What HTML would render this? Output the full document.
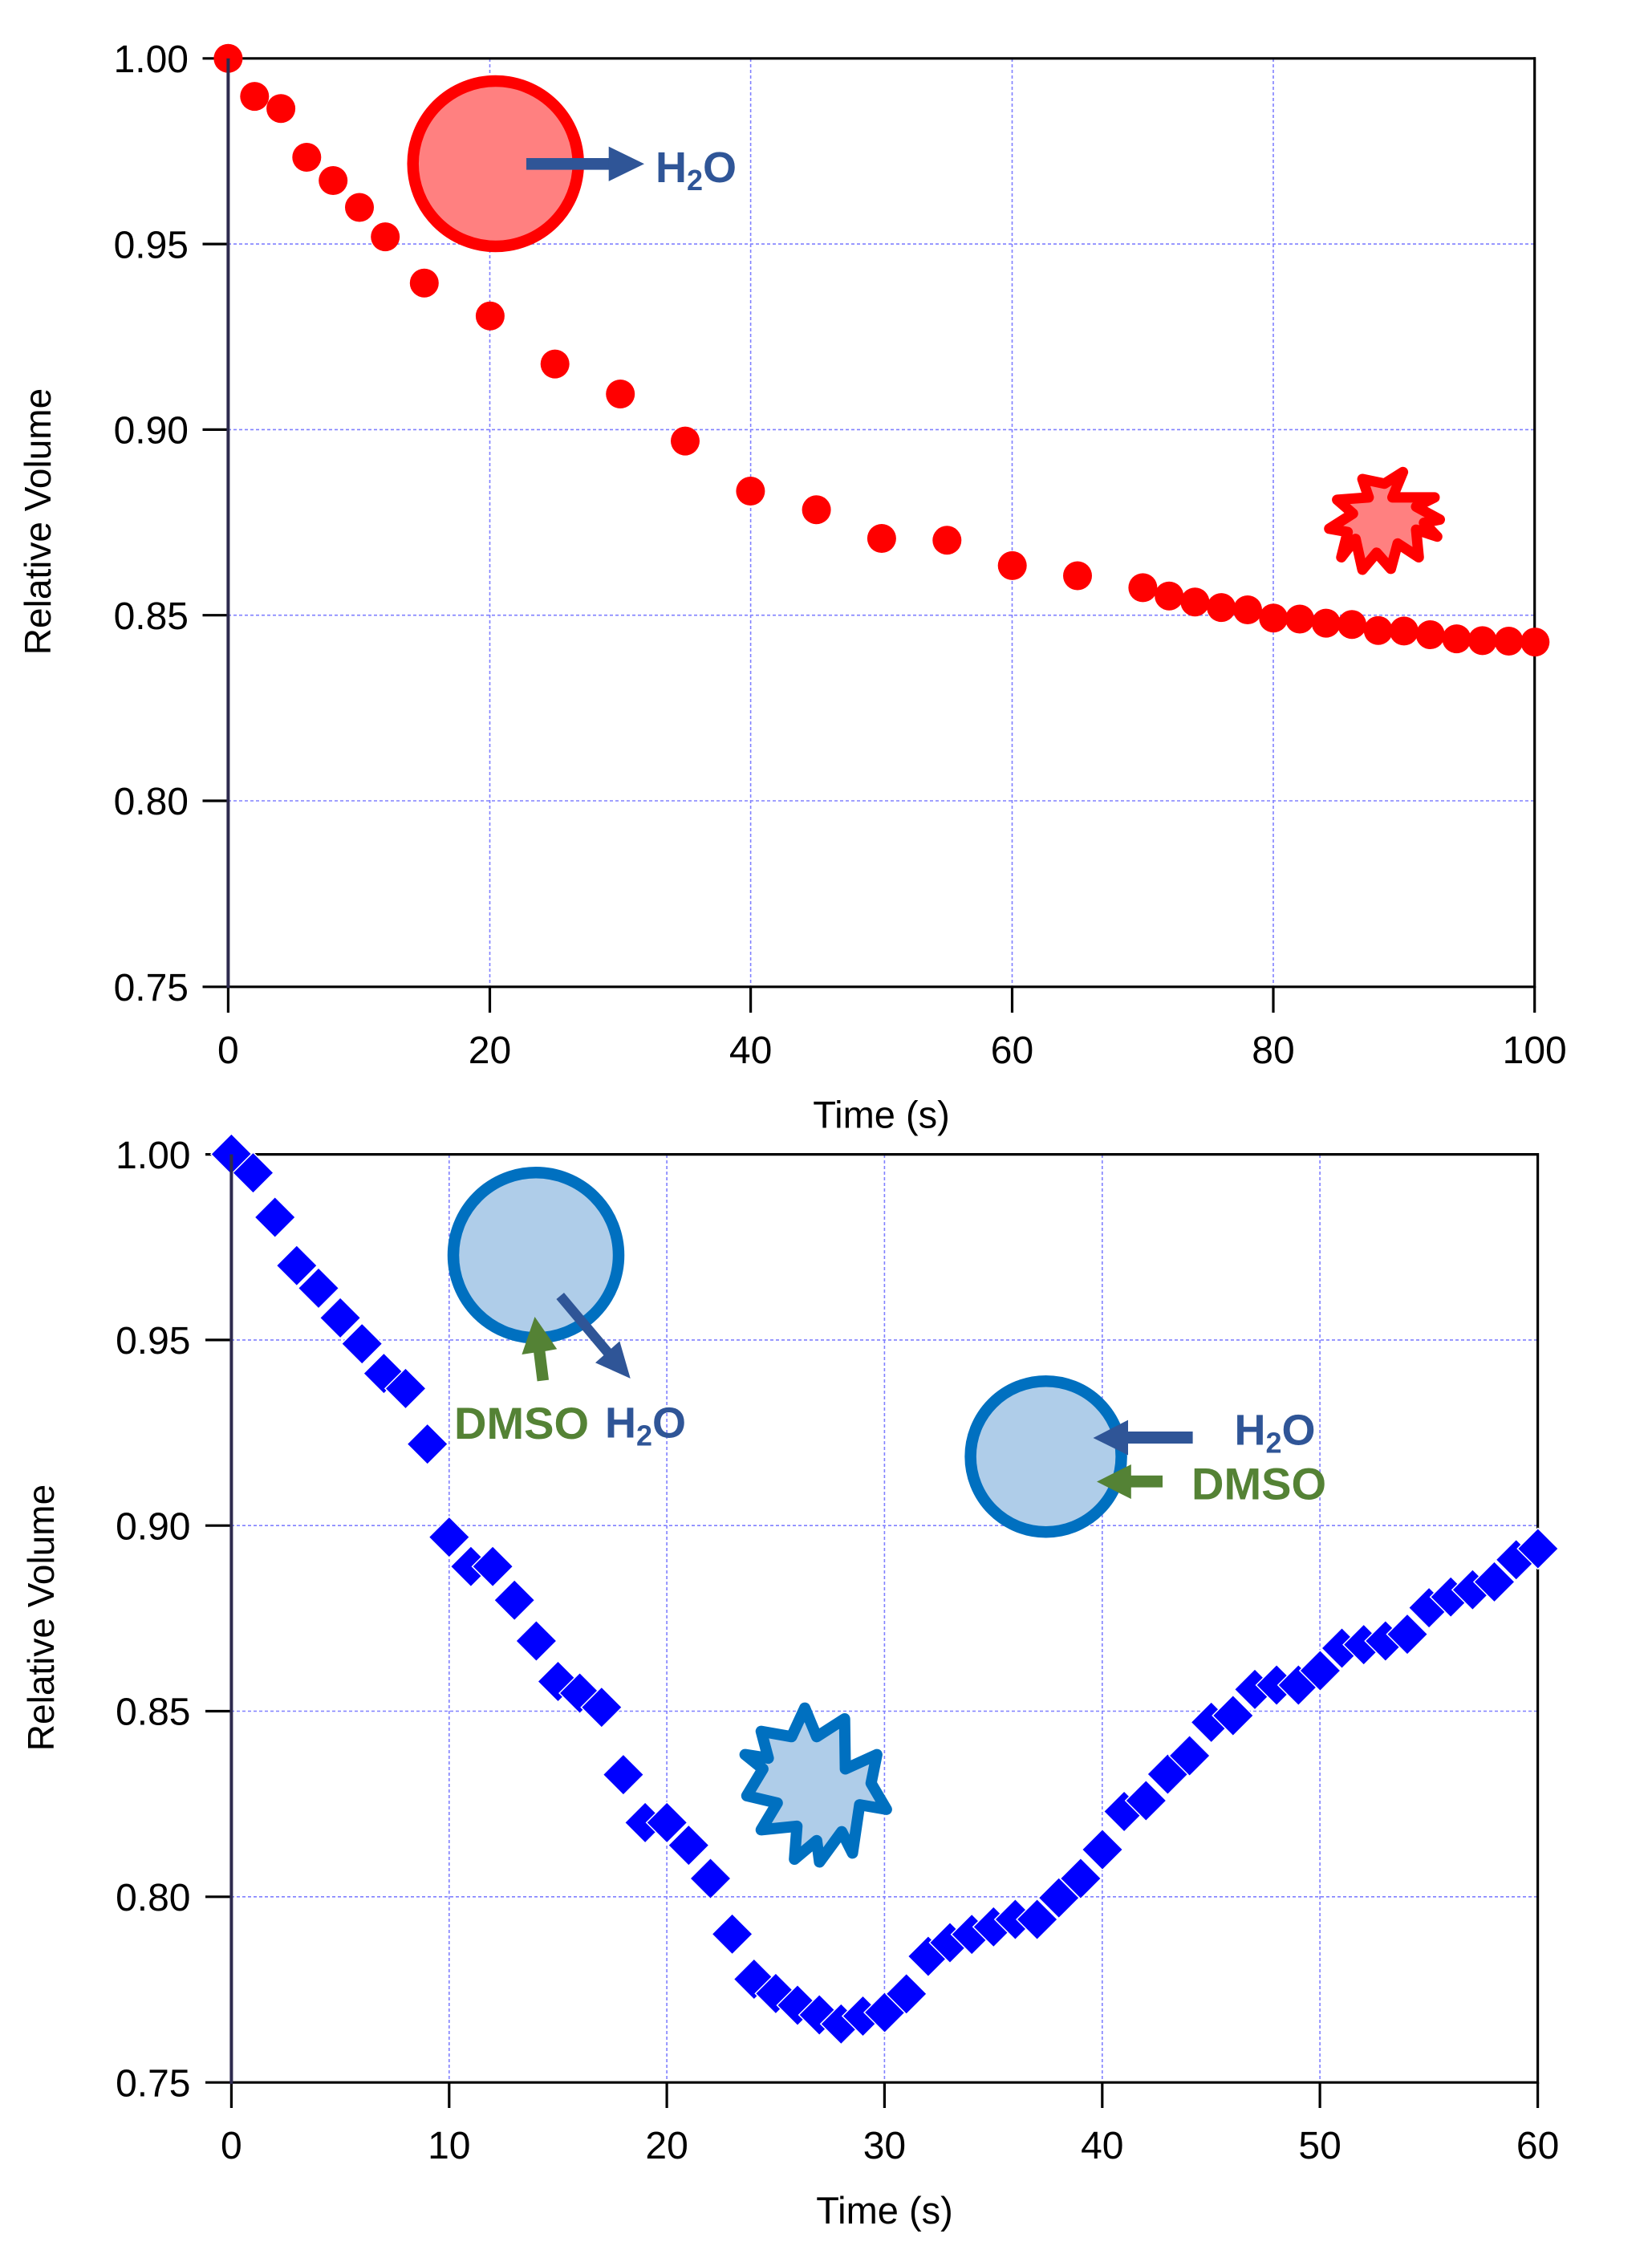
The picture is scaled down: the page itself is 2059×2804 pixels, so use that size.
<!DOCTYPE html>
<html><head><meta charset="utf-8"><style>
html,body{margin:0;padding:0;background:#fff;}
svg{display:block;}
text{font-family:"Liberation Sans",sans-serif;}
</style></head><body>
<svg width="2059" height="2804" viewBox="0 0 2059 2804" xmlns="http://www.w3.org/2000/svg">
<defs>
<polygon id="dm" points="0,-25.5 25.5,0 0,25.5 -25.5,0" fill="#0000ff" stroke="#fff" stroke-width="1.5"/>
</defs>
<rect width="2059" height="2804" fill="#fff"/>

<!-- TOP CHART grid -->
<g stroke="#8080ff" stroke-width="1.6" stroke-dasharray="4 3" fill="none">
<line x1="284" y1="304.1" x2="1912" y2="304.1"/>
<line x1="284" y1="535.4" x2="1912" y2="535.4"/>
<line x1="284" y1="766.7" x2="1912" y2="766.7"/>
<line x1="284" y1="998" x2="1912" y2="998"/>
<line x1="610.5" y1="73" x2="610.5" y2="1229"/>
<line x1="935.6" y1="73" x2="935.6" y2="1229"/>
<line x1="1261.5" y1="73" x2="1261.5" y2="1229"/>
<line x1="1587" y1="73" x2="1587" y2="1229"/>
</g>
<g stroke="#000" stroke-width="3.2" fill="none">
<line x1="284" y1="72.8" x2="1914" y2="72.8"/>
<line x1="1912.7" y1="71.2" x2="1912.7" y2="1231"/>
<line x1="284" y1="1229.8" x2="1914" y2="1229.8"/>
<line x1="252.5" y1="72.8" x2="284" y2="72.8"/>
<line x1="252.5" y1="304.1" x2="284" y2="304.1"/>
<line x1="252.5" y1="535.4" x2="284" y2="535.4"/>
<line x1="252.5" y1="766.7" x2="284" y2="766.7"/>
<line x1="252.5" y1="998" x2="284" y2="998"/>
<line x1="252.5" y1="1229.8" x2="284" y2="1229.8"/>
<line x1="284.4" y1="1229" x2="284.4" y2="1262"/>
<line x1="610.5" y1="1229" x2="610.5" y2="1262"/>
<line x1="935.6" y1="1229" x2="935.6" y2="1262"/>
<line x1="1261.5" y1="1229" x2="1261.5" y2="1262"/>
<line x1="1587" y1="1229" x2="1587" y2="1262"/>
<line x1="1912.7" y1="1229" x2="1912.7" y2="1262"/>
</g>

<!-- top annotation -->
<circle cx="617.7" cy="204" r="103" fill="#ff8080" stroke="#ff0000" stroke-width="14.5"/>
<rect x="656" y="197" width="104" height="14.6" fill="#2f5597"/>
<polygon points="758.7,182.6 803,204.3 758.7,225.9" fill="#2f5597"/>
<text x="817" y="227" font-size="54" font-weight="bold" fill="#2f5597">H<tspan dy="10" font-size="36">2</tspan><tspan dy="-10">O</tspan></text>

<polygon points="1748.6,588.3 1735.5,619.9 1788,619.9 1765,631.4 1794.5,647.5 1774.8,651.5 1791.3,668.7 1765,660.1 1768.3,694.5 1742,677.3 1733.5,708.9 1715.8,688.8 1698.1,710 1689.5,671.6 1671.8,694.5 1679.7,663 1656.7,658.9 1686.3,640 1666.6,622.8 1705.9,619.9 1698.1,597 1725.6,602.7" fill="#ff8080" stroke="#ff0000" stroke-width="13" stroke-linejoin="round" stroke-linecap="round"/>

<!-- red data -->
<g fill="#ff0000">
<circle cx="284.4" cy="72.8" r="18"/>
<circle cx="317.3" cy="120.1" r="18"/>
<circle cx="350.1" cy="135.3" r="18"/>
<circle cx="382.3" cy="196" r="18"/>
<circle cx="415.2" cy="225" r="18"/>
<circle cx="448" cy="258.5" r="18"/>
<circle cx="480.2" cy="295.1" r="18"/>
<circle cx="528.8" cy="352.7" r="18"/>
<circle cx="610.9" cy="393.8" r="18"/>
<circle cx="691.7" cy="453.6" r="18"/>
<circle cx="773.2" cy="491" r="18"/>
<circle cx="854" cy="549.6" r="18"/>
<circle cx="935.4" cy="612" r="18"/>
<circle cx="1017.6" cy="635.3" r="18"/>
<circle cx="1098.9" cy="671" r="18"/>
<circle cx="1180.3" cy="673.3" r="18"/>
<circle cx="1261.7" cy="704.9" r="18"/>
<circle cx="1343" cy="717.5" r="18"/>
<circle cx="1424.4" cy="732.4" r="18"/>
<circle cx="1457.2" cy="742.7" r="18"/>
<circle cx="1489.4" cy="750.2" r="18"/>
<circle cx="1522.2" cy="757.1" r="18"/>
<circle cx="1555" cy="760" r="18"/>
<circle cx="1587.2" cy="770.3" r="18"/>
<circle cx="1620" cy="771.5" r="18"/>
<circle cx="1652.8" cy="776.6" r="18"/>
<circle cx="1685" cy="778.3" r="18"/>
<circle cx="1717.8" cy="785.8" r="18"/>
<circle cx="1749.9" cy="786.4" r="18"/>
<circle cx="1782.7" cy="791" r="18"/>
<circle cx="1815.5" cy="796.1" r="18"/>
<circle cx="1847.7" cy="798.4" r="18"/>
<circle cx="1880.5" cy="799" r="18"/>
<circle cx="1913.3" cy="800.1" r="18"/>
</g>
<line x1="284.4" y1="72.8" x2="284.4" y2="1231" stroke="#2d2a4e" stroke-width="4"/>

<g font-size="48" fill="#000" text-anchor="end">
<text x="235" y="90">1.00</text>
<text x="235" y="321.3">0.95</text>
<text x="235" y="552.6">0.90</text>
<text x="235" y="783.9">0.85</text>
<text x="235" y="1015.2">0.80</text>
<text x="235" y="1247">0.75</text>
</g>
<g font-size="48" fill="#000" text-anchor="middle">
<text x="284.4" y="1325">0</text>
<text x="610.5" y="1325">20</text>
<text x="935.6" y="1325">40</text>
<text x="1261.5" y="1325">60</text>
<text x="1587" y="1325">80</text>
<text x="1912.7" y="1325">100</text>
</g>
<text x="1098.5" y="1405.7" font-size="47" text-anchor="middle">Time (s)</text>
<text transform="translate(63,650) rotate(-90)" font-size="46" text-anchor="middle">Relative Volume</text>

<!-- BOTTOM CHART grid -->
<g stroke="#8080ff" stroke-width="1.6" stroke-dasharray="4 3" fill="none">
<line x1="288" y1="1669.9" x2="1916" y2="1669.9"/>
<line x1="288" y1="1901.2" x2="1916" y2="1901.2"/>
<line x1="288" y1="2132.5" x2="1916" y2="2132.5"/>
<line x1="288" y1="2363.8" x2="1916" y2="2363.8"/>
<line x1="559.8" y1="1439" x2="559.8" y2="2595"/>
<line x1="831.1" y1="1439" x2="831.1" y2="2595"/>
<line x1="1102.4" y1="1439" x2="1102.4" y2="2595"/>
<line x1="1373.8" y1="1439" x2="1373.8" y2="2595"/>
<line x1="1645.1" y1="1439" x2="1645.1" y2="2595"/>
</g>
<g stroke="#000" stroke-width="3.2" fill="none">
<line x1="288" y1="1438.6" x2="1918" y2="1438.6"/>
<line x1="1916.6" y1="1437" x2="1916.6" y2="2597"/>
<line x1="288" y1="2595.2" x2="1918" y2="2595.2"/>
<line x1="256" y1="1438.6" x2="288" y2="1438.6"/>
<line x1="256" y1="1669.9" x2="288" y2="1669.9"/>
<line x1="256" y1="1901.2" x2="288" y2="1901.2"/>
<line x1="256" y1="2132.5" x2="288" y2="2132.5"/>
<line x1="256" y1="2363.8" x2="288" y2="2363.8"/>
<line x1="256" y1="2595.2" x2="288" y2="2595.2"/>
<line x1="288.4" y1="2595" x2="288.4" y2="2627"/>
<line x1="559.8" y1="2595" x2="559.8" y2="2627"/>
<line x1="831.1" y1="2595" x2="831.1" y2="2627"/>
<line x1="1102.4" y1="2595" x2="1102.4" y2="2627"/>
<line x1="1373.8" y1="2595" x2="1373.8" y2="2627"/>
<line x1="1645.1" y1="2595" x2="1645.1" y2="2627"/>
<line x1="1916.6" y1="2595" x2="1916.6" y2="2627"/>
</g>

<!-- left annotation -->
<circle cx="668" cy="1564.3" r="103" fill="#afcde9" stroke="#0070c0" stroke-width="14.5"/>
<polygon points="666.5,1641 694.2,1681.3 679.5,1683.9 684,1719.6 669.6,1721.4 665.2,1685.7 650.4,1688" fill="#548235"/>
<line x1="698.2" y1="1615" x2="758" y2="1686" stroke="#2f5597" stroke-width="12.5"/>
<polygon points="742,1698.2 785.7,1717.9 772.3,1671.4" fill="#2f5597"/>
<text x="566" y="1793" font-size="56" font-weight="bold" fill="#548235">DMSO</text>
<text x="754" y="1791.5" font-size="54" font-weight="bold" fill="#2f5597">H<tspan dy="10" font-size="36">2</tspan><tspan dy="-10">O</tspan></text>

<!-- right annotation -->
<circle cx="1303.6" cy="1815.2" r="94" fill="#afcde9" stroke="#0070c0" stroke-width="14.5"/>
<rect x="1405" y="1784" width="81.6" height="15" fill="#2f5597"/>
<polygon points="1406,1769.6 1362.5,1792 1406,1813.5" fill="#2f5597"/>
<rect x="1409" y="1838.8" width="40" height="14.8" fill="#548235"/>
<polygon points="1409.8,1825 1367,1846.5 1409.8,1868" fill="#548235"/>
<text x="1538.5" y="1800.4" font-size="54" font-weight="bold" fill="#2f5597">H<tspan dy="10" font-size="36">2</tspan><tspan dy="-10">O</tspan></text>
<text x="1485" y="1868.7" font-size="56" font-weight="bold" fill="#548235">DMSO</text>

<!-- blue star -->
<polygon points="1003.1,2128.6 1017.9,2164.3 1052.7,2142 1053.6,2204.5 1092.9,2186.6 1085.7,2222.3 1104.9,2254.9 1071.4,2249.1 1062.5,2309.4 1049.1,2282.6 1021.4,2320.5 1017.9,2293.8 990.2,2317 993.3,2275.9 948.7,2280.4 968.8,2246.9 930.8,2237.9 950.9,2204.5 928.6,2186.6 957.6,2191.1 948.7,2157.6 986.6,2164.3" fill="#afcde9" stroke="#0070c0" stroke-width="14" stroke-linejoin="round" stroke-linecap="round"/>

<!-- blue diamonds -->
<use href="#dm" x="288.4" y="1438.4"/>
<use href="#dm" x="315.5" y="1461.6"/>
<use href="#dm" x="342.7" y="1517"/>
<use href="#dm" x="369.8" y="1577.2"/>
<use href="#dm" x="397" y="1605.4"/>
<use href="#dm" x="424.1" y="1642.4"/>
<use href="#dm" x="451.2" y="1674.6"/>
<use href="#dm" x="478.4" y="1711.6"/>
<use href="#dm" x="505.5" y="1730.4"/>
<use href="#dm" x="532.7" y="1799.6"/>
<use href="#dm" x="559.8" y="1915.6"/>
<use href="#dm" x="586.9" y="1952.2"/>
<use href="#dm" x="614.1" y="1952.2"/>
<use href="#dm" x="641.2" y="1994.2"/>
<use href="#dm" x="668.4" y="2045"/>
<use href="#dm" x="695.5" y="2095.5"/>
<use href="#dm" x="722.6" y="2110"/>
<use href="#dm" x="749.8" y="2127.7"/>
<use href="#dm" x="776.9" y="2211.6"/>
<use href="#dm" x="804.1" y="2271.4"/>
<use href="#dm" x="831.2" y="2271.4"/>
<use href="#dm" x="858.3" y="2299.6"/>
<use href="#dm" x="885.5" y="2341"/>
<use href="#dm" x="912.6" y="2410.3"/>
<use href="#dm" x="939.8" y="2466.5"/>
<use href="#dm" x="966.9" y="2484.4"/>
<use href="#dm" x="994" y="2499"/>
<use href="#dm" x="1021.2" y="2511"/>
<use href="#dm" x="1048.3" y="2522.3"/>
<use href="#dm" x="1075.5" y="2512.5"/>
<use href="#dm" x="1102.6" y="2508"/>
<use href="#dm" x="1129.7" y="2484.8"/>
<use href="#dm" x="1156.9" y="2438"/>
<use href="#dm" x="1184" y="2421"/>
<use href="#dm" x="1211.2" y="2410.7"/>
<use href="#dm" x="1238.3" y="2401.3"/>
<use href="#dm" x="1265.4" y="2392"/>
<use href="#dm" x="1292.6" y="2392"/>
<use href="#dm" x="1319.7" y="2365.2"/>
<use href="#dm" x="1346.9" y="2341"/>
<use href="#dm" x="1374" y="2305"/>
<use href="#dm" x="1401.1" y="2257.5"/>
<use href="#dm" x="1428.3" y="2244"/>
<use href="#dm" x="1455.4" y="2211"/>
<use href="#dm" x="1482.6" y="2188"/>
<use href="#dm" x="1509.7" y="2146.4"/>
<use href="#dm" x="1536.8" y="2138"/>
<use href="#dm" x="1564" y="2105.4"/>
<use href="#dm" x="1591.1" y="2100"/>
<use href="#dm" x="1618.3" y="2100"/>
<use href="#dm" x="1645.4" y="2082"/>
<use href="#dm" x="1672.5" y="2054"/>
<use href="#dm" x="1699.7" y="2049.6"/>
<use href="#dm" x="1726.8" y="2045"/>
<use href="#dm" x="1754" y="2036.6"/>
<use href="#dm" x="1781.1" y="2003.6"/>
<use href="#dm" x="1808.2" y="1990.2"/>
<use href="#dm" x="1835.4" y="1981.2"/>
<use href="#dm" x="1862.5" y="1971.4"/>
<use href="#dm" x="1889.7" y="1943.8"/>
<use href="#dm" x="1916.8" y="1930"/>
<line x1="288.4" y1="1438.6" x2="288.4" y2="2597" stroke="#2d2a4e" stroke-width="4"/>

<g font-size="48" fill="#000" text-anchor="end">
<text x="237.5" y="1455.8">1.00</text>
<text x="237.5" y="1687.1">0.95</text>
<text x="237.5" y="1918.4">0.90</text>
<text x="237.5" y="2149.7">0.85</text>
<text x="237.5" y="2381">0.80</text>
<text x="237.5" y="2612.4">0.75</text>
</g>
<g font-size="48" fill="#000" text-anchor="middle">
<text x="288.4" y="2690">0</text>
<text x="559.8" y="2690">10</text>
<text x="831.1" y="2690">20</text>
<text x="1102.4" y="2690">30</text>
<text x="1373.8" y="2690">40</text>
<text x="1645.1" y="2690">50</text>
<text x="1916.6" y="2690">60</text>
</g>
<text x="1102.5" y="2771" font-size="47" text-anchor="middle">Time (s)</text>
<text transform="translate(67,2016) rotate(-90)" font-size="46" text-anchor="middle">Relative Volume</text>
</svg>
</body></html>
